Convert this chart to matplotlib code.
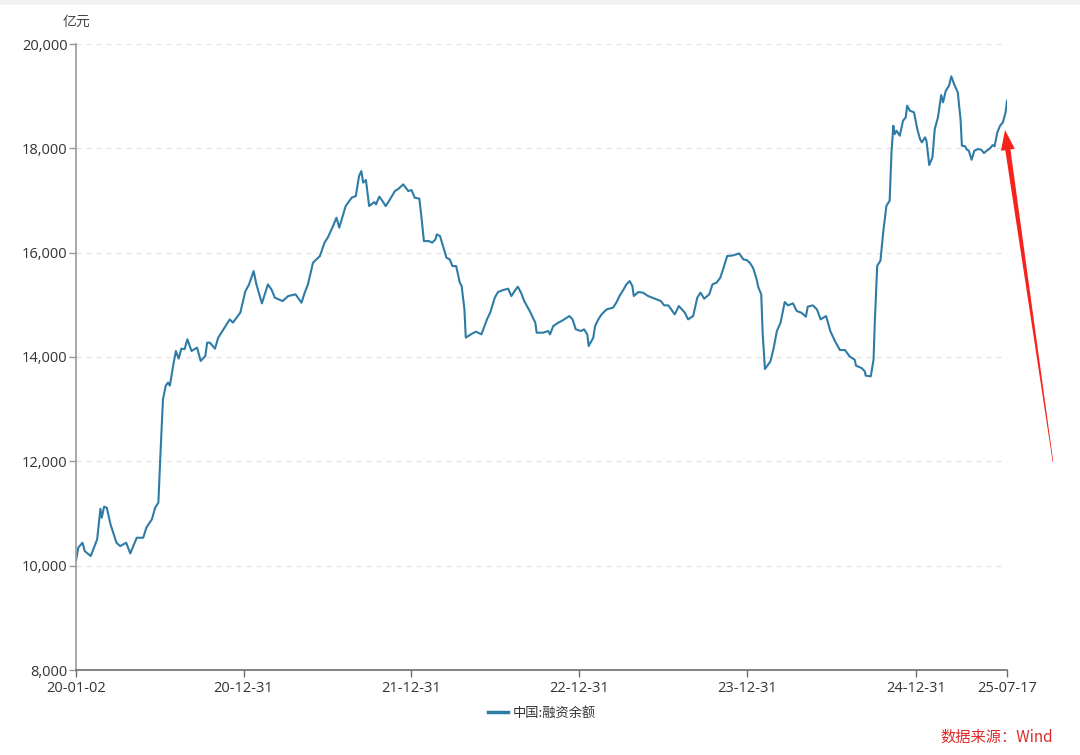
import matplotlib
matplotlib.use("Agg")
import matplotlib.pyplot as plt
import matplotlib.dates as mdates
from matplotlib.ticker import FuncFormatter, FixedLocator
from matplotlib.patches import Polygon, Rectangle
from matplotlib.transforms import IdentityTransform
import numpy as np
import pandas as pd

plt.rcParams['font.family'] = ['Open Sans', 'Noto Sans CJK SC', 'DejaVu Sans']

series_name = "中国:融资余额"
unit_label = "亿元"
source_text = "数据来源：Wind"

dates = [
    "2020-01-02", "2020-01-07", "2020-01-16", "2020-01-21", "2020-02-03", "2020-02-17", "2020-02-24",
    "2020-02-27", "2020-03-03", "2020-03-09", "2020-03-17", "2020-03-30", "2020-04-07", "2020-04-20",
    "2020-04-29", "2020-05-13", "2020-05-27", "2020-06-03", "2020-06-15", "2020-06-22", "2020-06-29",
    "2020-07-03", "2020-07-09", "2020-07-15", "2020-07-20", "2020-07-24", "2020-07-31", "2020-08-06",
    "2020-08-12", "2020-08-18", "2020-08-25", "2020-08-31", "2020-09-09", "2020-09-21", "2020-09-29",
    "2020-10-09", "2020-10-13", "2020-10-19", "2020-10-30", "2020-11-06", "2020-11-20", "2020-12-01",
    "2020-12-08", "2020-12-24", "2021-01-04", "2021-01-12",
    "2021-01-22", "2021-01-28", "2021-02-09", "2021-02-22", "2021-03-02", "2021-03-09", "2021-03-26",
    "2021-04-07", "2021-04-23", "2021-05-06", "2021-05-13", "2021-05-20", "2021-05-31", "2021-06-15",
    "2021-06-25", "2021-07-02", "2021-07-12", "2021-07-21", "2021-07-27", "2021-08-10", "2021-08-23",
    "2021-09-01", "2021-09-08", "2021-09-13", "2021-09-17", "2021-09-23", "2021-09-30", "2021-10-11",
    "2021-10-15", "2021-10-22", "2021-10-29", "2021-11-05", "2021-11-12", "2021-11-25", "2021-12-03",
    "2021-12-13", "2021-12-24", "2021-12-31",
    "2022-01-07", "2022-01-17", "2022-01-21", "2022-01-27", "2022-02-07", "2022-02-14", "2022-02-21",
    "2022-02-24", "2022-03-03", "2022-03-17", "2022-03-24", "2022-03-30", "2022-04-07", "2022-04-15",
    "2022-04-19", "2022-04-25", "2022-04-28", "2022-05-09", "2022-05-20", "2022-06-01", "2022-06-13",
    "2022-06-20", "2022-06-30", "2022-07-07", "2022-07-18", "2022-07-29", "2022-08-05", "2022-08-12",
    "2022-08-19", "2022-08-26", "2022-09-02", "2022-09-14", "2022-09-26", "2022-09-29", "2022-10-13",
    "2022-10-24", "2022-10-28", "2022-11-04", "2022-11-15", "2022-11-22", "2022-12-09", "2022-12-16",
    "2022-12-23",
    "2023-01-03", "2023-01-10", "2023-01-17", "2023-01-20", "2023-01-30", "2023-02-03", "2023-02-10",
    "2023-02-17", "2023-02-28", "2023-03-14", "2023-03-21", "2023-03-28", "2023-04-06", "2023-04-12",
    "2023-04-19", "2023-04-25", "2023-04-28", "2023-05-08", "2023-05-18", "2023-05-29", "2023-06-13",
    "2023-06-26", "2023-07-03", "2023-07-12", "2023-07-26", "2023-08-04", "2023-08-17", "2023-08-24",
    "2023-09-04", "2023-09-13", "2023-09-20", "2023-09-28", "2023-10-09", "2023-10-16", "2023-10-25",
    "2023-11-02", "2023-11-08", "2023-11-17", "2023-11-30", "2023-12-13", "2023-12-22", "2023-12-29",
    "2024-01-05", "2024-01-12", "2024-01-19", "2024-01-24", "2024-01-30", "2024-02-02", "2024-02-07",
    "2024-02-19", "2024-02-26", "2024-03-04", "2024-03-12", "2024-03-21", "2024-03-28", "2024-04-08",
    "2024-04-16", "2024-04-26", "2024-05-06", "2024-05-10", "2024-05-21", "2024-05-30", "2024-06-07",
    "2024-06-19", "2024-06-28", "2024-07-08", "2024-07-19", "2024-07-30", "2024-08-09", "2024-08-20",
    "2024-08-23", "2024-09-04", "2024-09-11", "2024-09-13", "2024-09-24", "2024-09-30", "2024-10-03",
    "2024-10-08", "2024-10-15", "2024-10-21", "2024-10-28", "2024-11-04", "2024-11-08", "2024-11-12",
    "2024-11-15", "2024-11-19", "2024-11-26", "2024-12-03", "2024-12-09", "2024-12-12", "2024-12-18",
    "2024-12-27",
    "2025-01-03", "2025-01-09", "2025-01-13", "2025-01-20", "2025-01-23", "2025-01-29", "2025-02-05",
    "2025-02-10", "2025-02-17", "2025-02-24", "2025-02-28", "2025-03-06", "2025-03-13", "2025-03-18",
    "2025-03-24", "2025-04-01", "2025-04-07", "2025-04-10", "2025-04-17", "2025-04-21", "2025-04-25",
    "2025-05-01", "2025-05-07", "2025-05-15", "2025-05-22", "2025-05-28", "2025-06-03", "2025-06-10",
    "2025-06-16", "2025-06-20", "2025-06-26", "2025-07-02", "2025-07-08", "2025-07-14", "2025-07-17",
]

values = [
    10100, 10345, 10440, 10280, 10185, 10505, 11090,
    10920, 11130, 11110, 10790, 10440, 10375, 10440,
    10235, 10535, 10535, 10730, 10890, 11110, 11210,
    12040, 13190, 13450, 13510, 13450, 13830, 14115,
    13970, 14160, 14150, 14340, 14115, 14180, 13925,
    14020, 14275, 14275, 14160, 14370, 14565, 14720,
    14660, 14850, 15260, 15390,
    15647, 15392, 15028, 15392, 15290, 15137, 15072,
    15168, 15201, 15041, 15233, 15392, 15808, 15935,
    16192, 16288, 16479, 16671, 16479, 16893, 17054,
    17085, 17468, 17564, 17342, 17392, 16893, 16970,
    16926, 17074, 16989, 16893, 16989, 17181, 17227,
    17309, 17181, 17200,
    17054, 17035, 16734, 16222, 16222, 16192, 16255,
    16351, 16318, 15904, 15872, 15743, 15743, 15425,
    15360, 14913, 14371, 14434, 14486, 14434, 14721,
    14850, 15137, 15245, 15283, 15310, 15168, 15264,
    15348, 15233, 15072, 14880, 14658, 14466, 14466,
    14498, 14434, 14593, 14658, 14689, 14785, 14721,
    14530,
    14498, 14530, 14434, 14210, 14370, 14594, 14721,
    14817, 14913, 14946, 15041, 15169, 15297, 15392,
    15456, 15360, 15169, 15245, 15233, 15169, 15118,
    15072, 14990, 14990, 14817, 14977, 14850, 14721,
    14785, 15137, 15233, 15118, 15201, 15392, 15425,
    15521, 15680, 15935, 15948, 15986, 15872, 15859,
    15808, 15712, 15521, 15329, 15201, 14466, 13770,
    13916, 14172, 14498, 14658, 15054, 14990, 15028,
    14881, 14850, 14773, 14965, 14990, 14913, 14721,
    14785, 14498, 14306, 14133, 14133, 14011, 13948,
    13833, 13789, 13725, 13642, 13629, 13948, 14728,
    15750, 15846, 16390, 16900, 16996, 17923, 18433,
    18274, 18337, 18242, 18529, 18594, 18817, 18721,
    18690,
    18370, 18178, 18115, 18211, 18146, 17680, 17827,
    18370, 18594, 19022, 18882, 19104, 19200, 19380,
    19233, 19074, 18562, 18050, 18038, 17973, 17954,
    17781, 17954, 17987, 17973, 17910, 17954, 18000,
    18063, 18038, 18307, 18433, 18498, 18690, 18912,
]

x_tick_dates = ["2020-01-02", "2020-12-31", "2021-12-31", "2022-12-31",
                "2023-12-31", "2024-12-31", "2025-07-17"]
y_ticks = [8000, 10000, 12000, 14000, 16000, 18000, 20000]

W, H = 1080, 755
fig = plt.figure(figsize=(W / 100, H / 100), dpi=100)
fig.patch.set_facecolor("white")

L, R, T, B = 76, 1007, 44, 670
ax = fig.add_axes([L / W, 1 - B / H, (R - L) / W, (B - T) / H])

x = pd.to_datetime(dates)
ax.plot(x, values, color="#2e7ca6", lw=1.5, solid_joinstyle="round")

ax.set_xlim(pd.Timestamp(x_tick_dates[0]), pd.Timestamp(x_tick_dates[-1]))
ax.set_ylim(y_ticks[0], y_ticks[-1])

xt = pd.to_datetime(x_tick_dates)
ax.xaxis.set_major_locator(FixedLocator(mdates.date2num(xt)))
ax.xaxis.set_major_formatter(mdates.DateFormatter("%y-%m-%d"))
ax.set_yticks(y_ticks)
ax.yaxis.set_major_formatter(FuncFormatter(lambda v, p: f"{int(v):,}"))

ax.grid(axis="y", color="#e3e3e3", linestyle=(0, (4, 4)), linewidth=0.9)
ax.grid(axis="x", visible=False)
ax.set_axisbelow(True)

for s in ["top", "right"]:
    ax.spines[s].set_visible(False)
ax.spines["left"].set_color("#999999")
ax.spines["left"].set_linewidth(1.2)
ax.spines["bottom"].set_color("#6e6e6e")
ax.spines["bottom"].set_linewidth(1.2)

ax.tick_params(axis="y", direction="out", length=5, width=1, color="#999999",
               labelsize=10.5, labelcolor="#333333", pad=1)
ax.tick_params(axis="x", direction="out", length=5, width=1, color="#6e6e6e",
               labelsize=10.5, labelcolor="#333333", pad=3)

cjk = ['Noto Sans CJK SC', 'DejaVu Sans']
fig.text(63 / W, 1 - 22 / H, unit_label, fontsize=10, color="#444444",
         ha="left", va="center", family=cjk)

leg = fig.legend([ax.lines[0]], [series_name], loc="center",
                 bbox_to_anchor=(542 / W, 1 - 713 / H), frameon=False,
                 prop={'family': cjk, 'size': 9.5},
                 handlelength=1.5, handletextpad=0.4)
for t in leg.get_texts():
    t.set_color("#333333")
leg.legend_handles[0].set_linewidth(2.5)

fig.text(1053 / W, 1 - 737 / H, source_text, fontsize=11, color="#e02a2a",
         ha="right", va="center", family=cjk)

# red tapered arrow annotation (pixel space)
tip = np.array([1005.0, 130.0])
tail = np.array([1053.0, 462.0])
d = tip - tail
u = d / np.linalg.norm(d)
n = np.array([-u[1], u[0]])
head_len, head_hw, shaft_hw, tail_hw = 20.0, 7.0, 2.6, 0.3
base = tip - u * head_len
pts = [tip, base + n * head_hw, base + n * shaft_hw, tail + n * tail_hw,
       tail - n * tail_hw, base - n * shaft_hw, base - n * head_hw]
pts = [(p[0], H - p[1]) for p in pts]
fig.patches.append(Polygon(pts, closed=True, facecolor="#f5231b",
                           edgecolor="none", transform=IdentityTransform(),
                           figure=fig))

fig.patches.append(Rectangle((0, H - 5), W, 5, facecolor="#f2f2f2",
                             edgecolor="none", transform=IdentityTransform(),
                             figure=fig))

fig.savefig("out.png", dpi=100)
